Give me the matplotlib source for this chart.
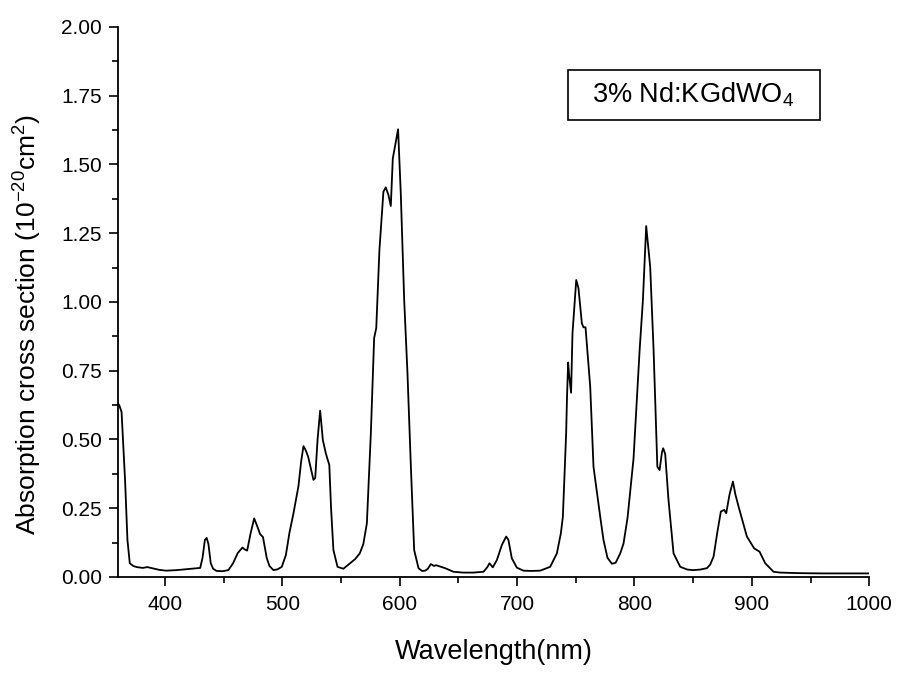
import matplotlib
matplotlib.use("Agg")
import matplotlib.pyplot as plt
from matplotlib.ticker import MultipleLocator
from matplotlib.patches import Rectangle

plt.rcParams['font.family'] = ['Liberation Sans', 'DejaVu Sans']
plt.rcParams['mathtext.fontset'] = 'custom'
plt.rcParams['mathtext.rm'] = 'Liberation Sans'

wavelength = [360, 361, 363, 366, 368, 370, 373, 376, 381, 385, 389, 395, 401, 410, 420, 430,
              432, 434, 435.5, 437, 439, 441, 444, 449, 454, 458, 462, 466, 468, 470, 473, 476,
              479, 481, 483.5, 486.7, 489, 492.4, 496, 499.5, 503, 506, 509.4, 513.7, 516, 518,
              520, 522, 526.5, 528, 530, 532.2, 534.5, 537, 540, 541.5, 543.5, 547, 552, 557.7,
              562, 566, 569, 572, 575.4, 578.2, 580, 582.7, 586.1, 588.1, 590.4, 592.4, 594.1,
              596.4, 598.6, 600.9, 603.8, 606.6, 609.5, 612.3, 616, 619, 621.7, 624, 626.5,
              629.3, 631, 633, 638.7, 645.8, 654, 662.8, 671.4, 674.5, 676.5, 679.3, 682.8, 687,
              690.7, 692.6, 695.5, 699.8, 705.4, 712, 719.7, 728.2, 733.9, 737.3, 739, 741.8,
              742.5, 743.5, 744.2, 746, 747.2, 750.4, 752.3, 755.2, 756.6, 758.3, 762.3, 765.1,
              767.4, 770.8, 773.6, 777, 780.8, 784, 787.9, 790.7, 794.1, 799.2, 804.4, 807.2,
              810, 813.4, 816.3, 819.5, 821.4, 823.5, 824.5, 826.2, 829, 833.3, 839, 845, 850.3,
              856, 861.7, 864.5, 867.4, 870.5, 873.6, 876.5, 878.2, 881, 883.9, 886, 888.7,
              895.8, 902, 906.6, 911.4, 918.5, 924.2, 940, 960, 980, 1000]
cross_section = [0.63, 0.625, 0.60, 0.35, 0.135, 0.05, 0.04, 0.036, 0.033, 0.036, 0.032, 0.026,
                 0.023, 0.025, 0.029, 0.033,
                 0.07, 0.135, 0.142, 0.12, 0.05, 0.03, 0.022, 0.021, 0.025, 0.05, 0.087, 0.107,
                 0.10, 0.096, 0.16, 0.213,
                 0.18, 0.156, 0.145, 0.069, 0.04, 0.025, 0.028, 0.037, 0.08, 0.16, 0.23, 0.33,
                 0.42, 0.476,
                 0.46, 0.437, 0.353, 0.36, 0.50, 0.605, 0.498, 0.45, 0.407, 0.25, 0.098, 0.037,
                 0.03, 0.05,
                 0.065, 0.086, 0.12, 0.195, 0.523, 0.869, 0.905, 1.189, 1.401, 1.417, 1.389,
                 1.349, 1.522,
                 1.577, 1.628, 1.395, 1.007, 0.741, 0.401, 0.098, 0.032, 0.022, 0.023, 0.03,
                 0.047,
                 0.04, 0.043, 0.04, 0.032, 0.019, 0.016, 0.016, 0.019, 0.035, 0.05, 0.035, 0.062,
                 0.116,
                 0.147, 0.135, 0.068, 0.034, 0.023, 0.022, 0.023, 0.037, 0.086, 0.159, 0.219,
                 0.523,
                 0.65, 0.78, 0.74, 0.67, 0.886, 1.08, 1.05, 0.922, 0.908, 0.908, 0.692, 0.401,
                 0.328, 0.22, 0.135, 0.07, 0.048, 0.052, 0.086, 0.122, 0.215, 0.43, 0.825, 1.007,
                 1.276, 1.128, 0.825, 0.401, 0.389, 0.455, 0.468, 0.447, 0.28, 0.086, 0.037,
                 0.027, 0.025,
                 0.027, 0.032, 0.045, 0.074, 0.16, 0.238, 0.244, 0.232, 0.30, 0.347, 0.30, 0.256,
                 0.147, 0.104, 0.092, 0.05, 0.019, 0.016, 0.014, 0.013, 0.013, 0.013]

x_ticks = [400, 500, 600, 700, 800, 900, 1000]
y_ticks = [0.00, 0.25, 0.50, 0.75, 1.00, 1.25, 1.50, 1.75, 2.00]

fig = plt.figure(figsize=(8.97, 6.75), dpi=100)
ax = fig.add_axes([0.1316, 0.1452, 0.8374, 0.8148])
ax.plot(wavelength, cross_section, color='black', lw=1.3)

ax.set_xlim(360, 1000)
ax.set_ylim(0, 2.0)
ax.set_xticks(x_ticks)
ax.set_yticks(y_ticks)
ax.set_yticklabels([f"{v:.2f}" for v in y_ticks])
ax.xaxis.set_minor_locator(MultipleLocator(50))
ax.yaxis.set_minor_locator(MultipleLocator(0.125))
ax.tick_params(which='major', direction='out', length=6.5, width=1.2, labelsize=15, pad=5)
ax.tick_params(axis='x', which='major', pad=6.5)
ax.tick_params(which='minor', direction='out', length=4, width=1.2)
for s in ['top', 'right']:
    ax.spines[s].set_visible(False)
for s in ['left', 'bottom']:
    ax.spines[s].set_linewidth(1.3)

ax.set_xlabel('Wavelength(nm)', fontsize=19.5, labelpad=18)
ax.set_ylabel('Absorption cross section (10$^{-20}$cm$^{2}$)', fontsize=19)
ax.yaxis.set_label_coords(-0.100, 0.458)

ax.add_patch(Rectangle((0.599, 0.831), 0.336, 0.091, transform=ax.transAxes,
                       facecolor='white', edgecolor='black', lw=1.2, zorder=5))
ax.text(0.765, 0.877, '3% Nd:KGdWO$_4$', transform=ax.transAxes, fontsize=19.5,
        ha='center', va='center', zorder=6)

fig.savefig('out.png', dpi=100)
